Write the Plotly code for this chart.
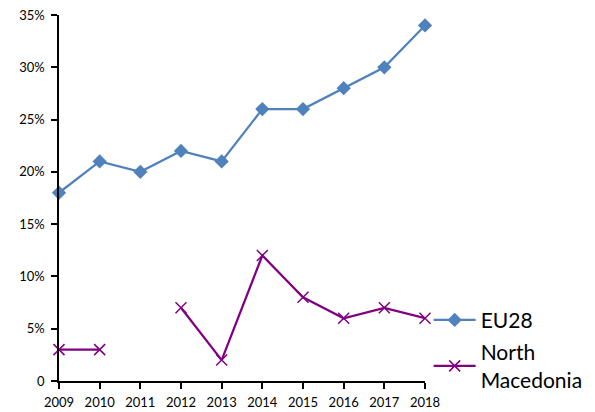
import plotly.graph_objects as go

years = [2009, 2010, 2011, 2012, 2013, 2014, 2015, 2016, 2017, 2018]
eu28 = [18, 21, 20, 22, 21, 26, 26, 28, 30, 34]
north_macedonia = [3, 3, None, 7, 2, 12, 8, 6, 7, 6]
y_tick_vals = [0, 5, 10, 15, 20, 25, 30, 35]
y_tick_text = ["0", "5%", "10%", "15%", "20%", "25%", "30%", "35%"]

fig = go.Figure()
fig.add_trace(go.Scatter(
    x=years, y=eu28, name="EU28", mode="lines+markers",
    legendgroup="a",
    line=dict(color="#4F81BD", width=2.25),
    marker=dict(symbol="diamond", size=11, color="#4F81BD"),
    cliponaxis=False,
))
fig.add_trace(go.Scatter(
    x=years, y=north_macedonia, name="North<br>Macedonia", mode="lines+markers",
    legendgroup="b",
    line=dict(color="#800080", width=2.25),
    marker=dict(symbol="x-thin", size=11, color="#800080",
                line=dict(color="#800080", width=1.5)),
    connectgaps=False,
    cliponaxis=False,
))

fig.update_layout(
    width=595, height=412,
    margin=dict(l=51, r=178, t=7, b=39, autoexpand=False),
    paper_bgcolor="white", plot_bgcolor="white",
    font=dict(family="Lato, Open Sans, sans-serif", color="#000000", size=13),
    showlegend=True,
    legend=dict(x=1.01, y=0.222, xanchor="left", yanchor="top",
                font=dict(size=21), tracegroupgap=2, traceorder="grouped",
                itemwidth=42, bgcolor="rgba(0,0,0,0)"),
)
fig.update_xaxes(
    range=[2009, 2018], tickmode="array", tickvals=years,
    ticktext=[str(y) for y in years],
    showline=True, linecolor="black", linewidth=1.5,
    ticks="outside", ticklen=6, tickcolor="black", tickwidth=1.5,
    showgrid=False, zeroline=False, tickfont=dict(size=13),
    ticklabelstandoff=3, ticklabeloverflow="allow",
)
fig.update_yaxes(
    range=[0, 35], tickmode="array", tickvals=y_tick_vals, ticktext=y_tick_text,
    showline=True, linecolor="black", linewidth=1.5,
    ticks="outside", ticklen=6, tickcolor="black", tickwidth=1.5,
    showgrid=False, zeroline=False, tickfont=dict(size=13),
    ticklabelstandoff=4, ticklabeloverflow="allow",
)

fig.write_html("out.html")
